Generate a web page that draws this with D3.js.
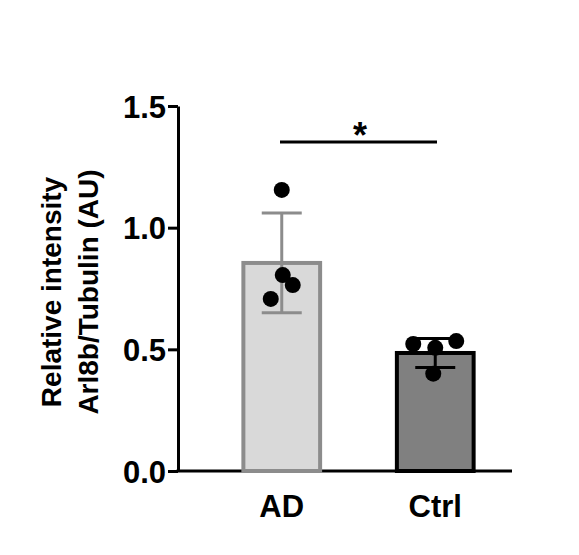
<!DOCTYPE html>
<html><head><meta charset="utf-8">
<script src="https://cdn.jsdelivr.net/npm/d3@7"></script>
<style>body{margin:0;background:#fff}text{font-family:"Liberation Sans",Arial,sans-serif;font-weight:bold}</style>
</head><body><svg id="c" width="579" height="555"></svg>
<script>
const groups = ['AD', 'Ctrl'];
const means = [0.855, 0.485];
const sds = [0.205, 0.06];
const points = [
  [{v: 1.155, dx: 0}, {v: 0.805, dx: 1}, {v: 0.707, dx: -11}, {v: 0.764, dx: 11}],
  [{v: 0.522, dx: -22}, {v: 0.506, dx: 0}, {v: 0.534, dx: 21}, {v: 0.40, dx: -2}]
];
const fills = ['#d9d9d9', '#808080'];
const strokes = ['#8c8c8c', '#000'];
const ticks = [0, 0.5, 1.0, 1.5];

const svg = d3.select('#c');
const y = d3.scaleLinear().domain([0, 1.5]).range([471, 106]);
const x = d3.scaleBand().domain(groups).range([205, 512]).paddingInner(0.5).paddingOuter(0.25);

svg.append('g').attr('transform', 'translate(178,0)')
  .call(d3.axisLeft(y).tickValues(ticks).tickFormat(d3.format('.1f')).tickSize(10).tickSizeOuter(0))
  .call(g => {
    g.select('.domain').attr('stroke-width', 3);
    g.selectAll('line').attr('stroke-width', 3);
    g.selectAll('text').attr('font-size', 31).attr('dy', '0.36em').attr('x', -12)
      .attr('font-family', '"Liberation Sans",Arial,sans-serif').attr('fill', '#000');
  });
svg.append('line').attr('x1', 176.5).attr('x2', 512).attr('y1', 471).attr('y2', 471).attr('stroke', '#000').attr('stroke-width', 3);

groups.forEach((g, i) => {
  const cx = x(g) + x.bandwidth() / 2;
  svg.append('rect').attr('x', x(g)).attr('y', y(means[i])).attr('width', x.bandwidth())
    .attr('height', y(0) - y(means[i])).attr('fill', fills[i]).attr('stroke', strokes[i]).attr('stroke-width', 4);
  const ec = strokes[i];
  svg.append('line').attr('x1', cx).attr('x2', cx).attr('y1', y(means[i] + sds[i])).attr('y2', y(means[i] - sds[i])).attr('stroke', ec).attr('stroke-width', 3);
  [means[i] + sds[i], means[i] - sds[i]].forEach(v =>
    svg.append('line').attr('x1', cx - 20).attr('x2', cx + 20).attr('y1', y(v)).attr('y2', y(v)).attr('stroke', ec).attr('stroke-width', 3));
  points[i].forEach(p => svg.append('circle').attr('cx', cx + p.dx).attr('cy', y(p.v)).attr('r', 8).attr('fill', '#000'));
  svg.append('text').attr('x', cx).attr('y', 517).attr('text-anchor', 'middle').attr('font-size', 31).text(g);
});

svg.append('line').attr('x1', 280).attr('x2', 437).attr('y1', 142).attr('y2', 142).attr('stroke', '#000').attr('stroke-width', 3);
svg.append('text').attr('x', 360).attr('y', 148).attr('text-anchor', 'middle').attr('font-size', 36).text('*');

const yl = svg.append('text').attr('transform', 'translate(61,292) rotate(-90)').attr('text-anchor', 'middle').attr('font-size', 28);
yl.append('tspan').attr('x', 0).attr('dy', 0).text('Relative intensity');
yl.append('tspan').attr('x', 0).attr('dy', 37).text('Arl8b/Tubulin (AU)');
</script></body></html>
